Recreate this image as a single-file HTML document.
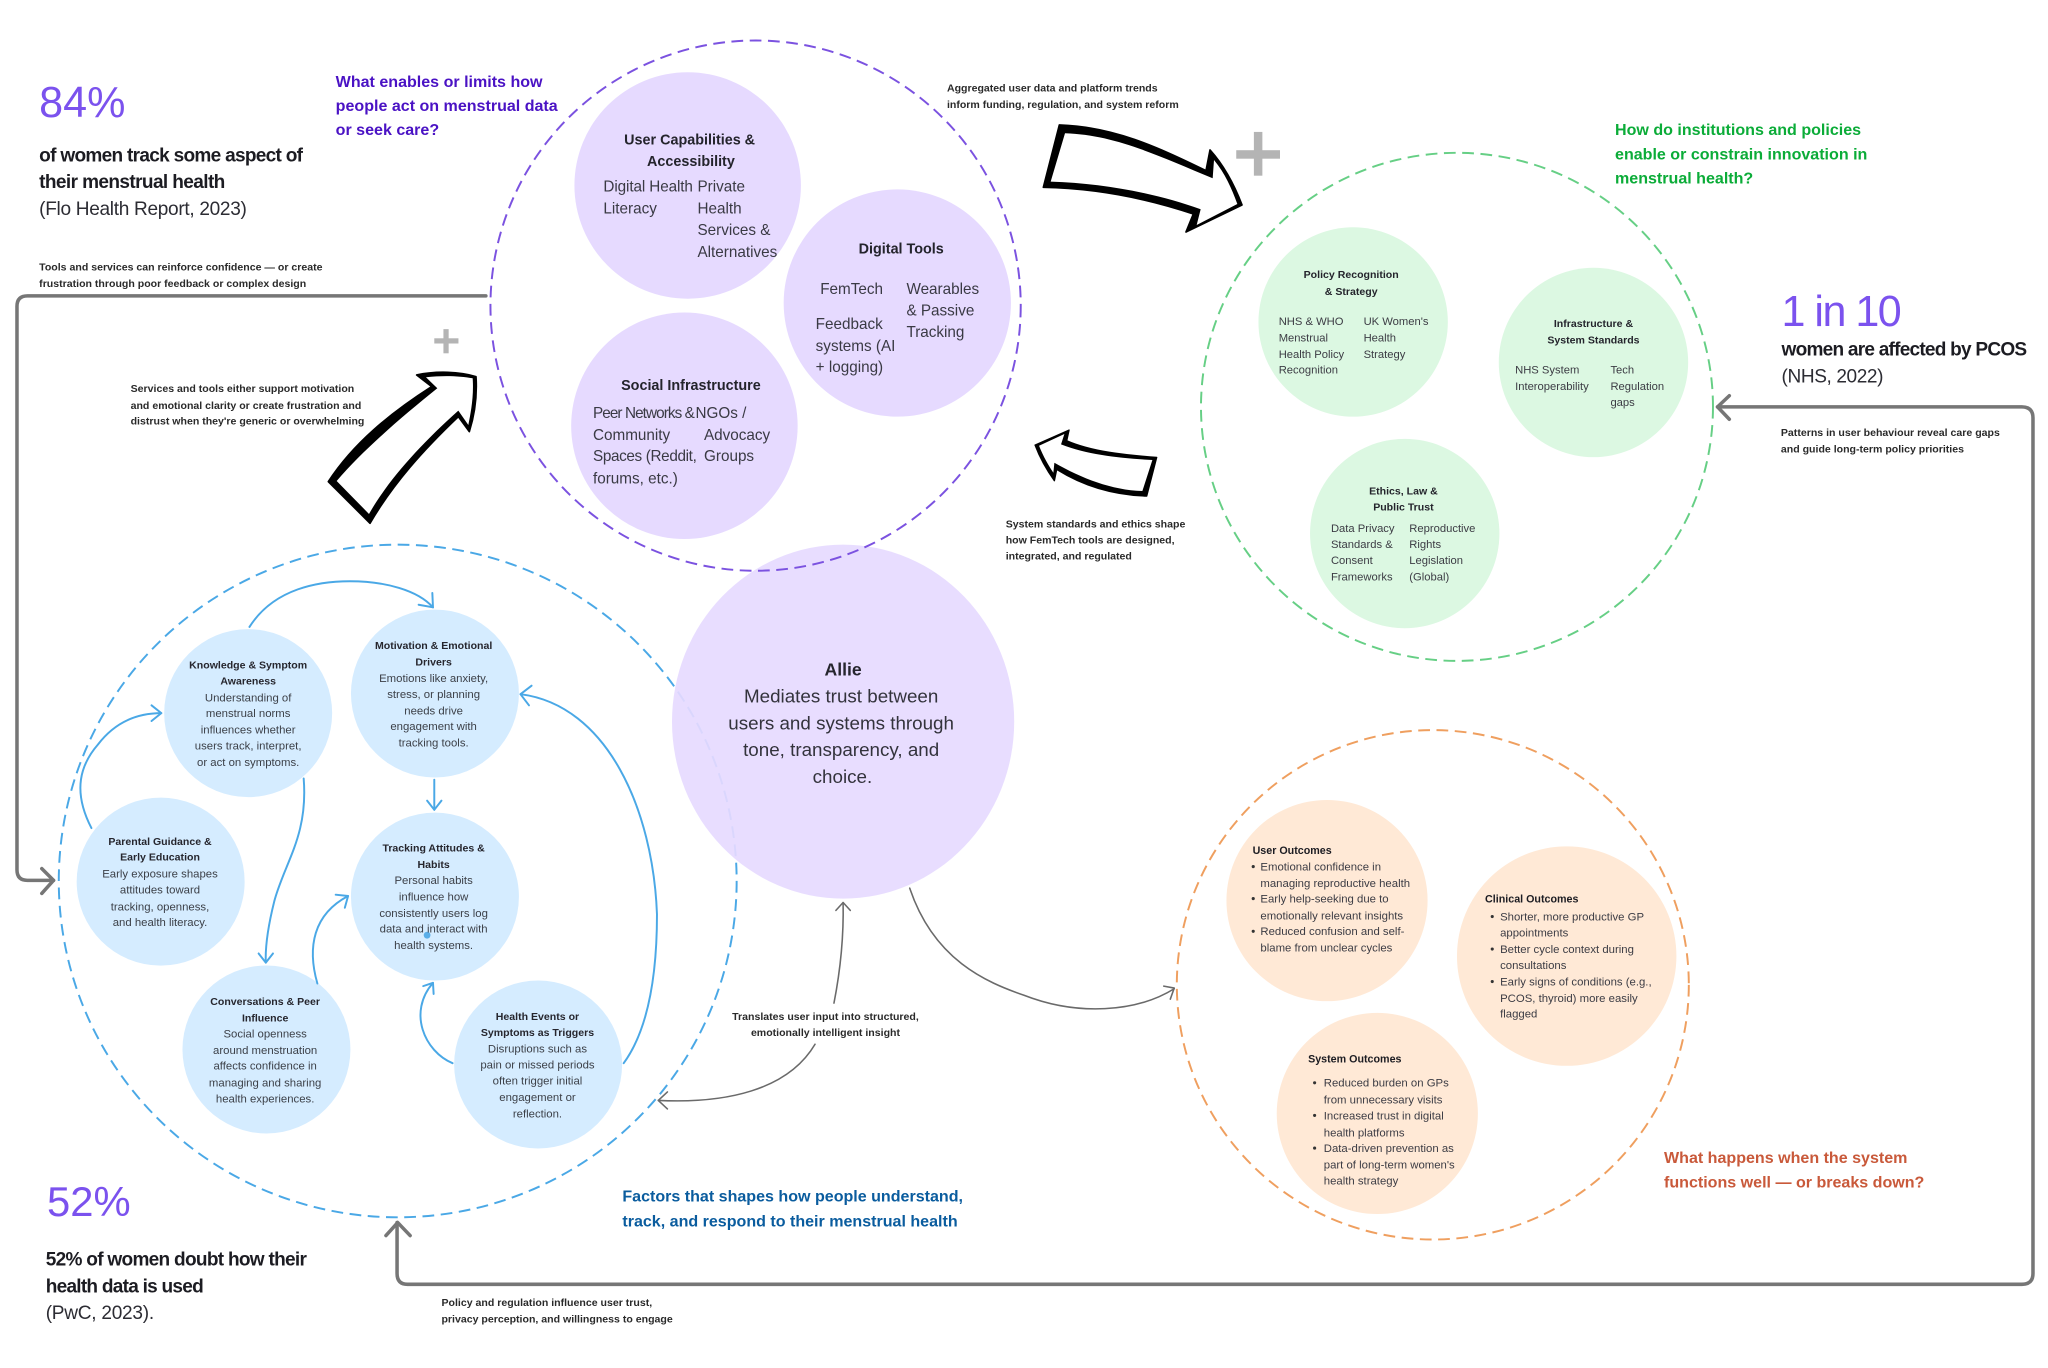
<!DOCTYPE html>
<html lang="en"><head><meta charset="utf-8"><title>Allie system diagram</title>
<style>
html,body{margin:0;padding:0;background:#fff;width:2048px;height:1368px;overflow:hidden}
svg{display:block}
text{font-family:"Liberation Sans",Arial,sans-serif}
.h{font-weight:700;font-size:14.6px;fill:#1c1c22}
.r{font-size:14.6px;fill:#2c2c33}
.n{font-weight:700;font-size:8.1px;fill:#2a2a2a}
.q{font-weight:700;font-size:12.3px}
.p{font-size:11.7px;fill:#3a3a44}
.pt{font-weight:700;font-size:11px;fill:#24242c}
.g{font-size:8.6px;fill:#3c3c44}
.gt{font-weight:700;font-size:8.1px;fill:#24242c}
.b{font-size:8.7px;fill:#3c4048}
.bt{font-weight:700;font-size:8.1px;fill:#26262e}
.o{font-size:8.7px;fill:#3c3c44}
.ot{font-weight:700;font-size:8.2px;fill:#1c1c22}
.m{text-anchor:middle}
.big{font-size:33px;fill:#7b52ee}
.line{fill:none;stroke:#4aa8e6;stroke-width:1.5;stroke-linecap:round;stroke-linejoin:round}
.thin{fill:none;stroke:#6a6a6a;stroke-width:1.2;stroke-linecap:round;stroke-linejoin:round}
.loop{fill:none;stroke:#767676;stroke-width:2.7;stroke-linecap:round;stroke-linejoin:round}
</style></head><body>
<svg xmlns="http://www.w3.org/2000/svg" width="2048" height="1368" viewBox="0 0 1568 1047.375">
<rect width="1568" height="1048" fill="#fff"/>

<!-- dashed rings -->
<ellipse cx="304.5" cy="674.5" rx="259.5" ry="257.5" fill="none" stroke="#4aa8e6" stroke-width="1.5" stroke-dasharray="9 5"/>
<ellipse cx="645.5" cy="552.5" rx="131" ry="135.5" fill="#e6daff" fill-opacity=".92"/>
<circle cx="578.5" cy="234" r="203" fill="none" stroke="#7b52e0" stroke-width="1.5" stroke-dasharray="9 5"/>
<ellipse cx="1115.5" cy="311.5" rx="196" ry="194.5" fill="none" stroke="#66cf85" stroke-width="1.5" stroke-dasharray="9 5"/>
<ellipse cx="1097" cy="754" rx="196" ry="195" fill="none" stroke="#ef9f5f" stroke-width="1.5" stroke-dasharray="9 5"/>

<!-- purple nodes -->
<circle cx="526.5" cy="142" r="86.7" fill="#e6daff"/>
<circle cx="687" cy="232" r="87" fill="#e6daff"/>
<circle cx="524" cy="326" r="86.7" fill="#e6daff"/>
<!-- green nodes -->
<circle cx="1036" cy="246.5" r="72.5" fill="#dcf8e2"/>
<circle cx="1220" cy="277.5" r="72.5" fill="#dcf8e2"/>
<circle cx="1075.5" cy="408.5" r="72.5" fill="#dcf8e2"/>
<!-- orange nodes -->
<circle cx="1016" cy="689.5" r="77" fill="#ffe9d6"/>
<circle cx="1199.5" cy="732" r="84" fill="#ffe9d6"/>
<circle cx="1054.5" cy="852.5" r="77" fill="#ffe9d6"/>
<!-- blue nodes -->
<circle cx="190" cy="546" r="64.3" fill="#d5ecff"/>
<circle cx="333" cy="531" r="64.3" fill="#d5ecff"/>
<circle cx="123" cy="675" r="64.3" fill="#d5ecff"/>
<circle cx="333" cy="686.5" r="64.3" fill="#d5ecff"/>
<circle cx="204" cy="803.5" r="64.3" fill="#d5ecff"/>
<circle cx="412" cy="815" r="64.3" fill="#d5ecff"/>
<circle cx="327" cy="716" r="2.6" fill="#5aaee8"/>

<!-- blue connectors -->
<g class="line">
<path d="M191 480C210 450 245 445 268 445C295 445 320 452 331.5 465"/><path d="M320.5 463L331.5 465L331 454"/>
<path d="M70 634C55 605 62 585 75 570C88 553 105 546 123.5 546"/><path d="M116 540L123.5 546L116 552"/>
<path d="M232.5 596C236 640 218 660 210 690C205 710 203 725 203.5 737"/><path d="M198 730L203.5 737L209 730"/>
<path d="M332.5 597V620"/><path d="M327 613L332.5 620L338 613"/>
<path d="M243 753C235 725 240 700 266.5 686"/><path d="M257 685L266.5 686L264 695"/>
<path d="M346.5 814C325 805 312 775 331.5 752.5"/><path d="M324 755L331.5 752.5L332 761"/>
<path d="M477.5 814C495 790 503 750 503 700C500 620 465 540 398.5 531.5"/><path d="M407 525L398.5 531.5L405 540"/>
</g>

<!-- thin gray connectors -->
<g class="thin">
<path d="M696.5 680C715 735 755 752 784 762C825 778 870 775 899 757"/><path d="M891 755L899 756.5L896 765"/>
<path d="M638.5 768C644 740 646 715 645.5 691"/><path d="M640 697L645.5 691L651 697"/>
<path d="M624 799.5C603 835 555 845 504 842.5"/><path d="M511 836L504 842.5L511 849"/>
</g>

<!-- gray loops -->
<g class="loop">
<path d="M372 226.5H21Q13 226.5 13 234.5V666Q13 674 21 674H41"/><path d="M32 665L41 674L32 684"/>
<path d="M1315 311.5H1548Q1556.5 311.5 1556.5 320V975Q1556.5 983.3 1548 983.3H312Q304 983.3 304 975V936"/>
<path d="M1324 303L1315 311.5L1324 321"/><path d="M295.5 946L304.5 936L314 946"/>
</g>

<!-- plus marks -->
<g fill="#b4b4b4">
<rect x="946.5" y="115" width="33.5" height="6.5"/><rect x="960" y="101" width="6.5" height="33.5"/>
<rect x="332.5" y="259" width="18.5" height="4"/><rect x="339.5" y="252" width="4" height="18.5"/>
</g>

<!-- hand-drawn arrows -->
<g transform="translate(788.6 84.2) scale(.2552)" stroke-linejoin="round">
<path fill="#000" stroke="#000" stroke-width="5" d="M88 45C250 50 380 110 528 182L540 120C585 170 615 230 636 285L468 366L490 312C350 265 200 235 40 232Z"/>
<path fill="#fff" d="M105 70C250 75 370 130 548 205L552 150C585 190 605 235 622 282L500 345L512 298C380 250 220 220 62 215Z"/>
</g>
<g transform="translate(245 275.6) scale(.2552)" stroke-linejoin="round">
<path fill="#000" stroke="#000" stroke-width="5" d="M25 365C100 250 210 160 335 80L290 45C350 32 420 35 468 50C472 110 462 170 448 215L415 170C310 270 220 370 150 490Z"/>
<path fill="#fff" d="M50 363C130 270 240 175 352 85L318 52C370 46 420 48 458 55C462 110 452 160 445 195L415 152C300 255 205 360 147 462Z"/>
</g>
<g transform="translate(784.8 321.6) scale(.2552)" stroke-linejoin="round">
<path fill="#000" stroke="#000" stroke-width="4" d="M395 112C300 105 200 95 125 62L132 30L30 75C45 115 65 150 88 182L95 148C170 195 260 225 365 228Z"/>
<path fill="#fff" d="M382 120C290 115 190 105 108 73L118 42L42 77C55 110 70 135 85 158L88 128C170 175 260 210 352 213Z"/>
</g>

<!-- stats -->
<text class="big" x="30" y="89.5">84%</text>
<text class="h" x="30" y="123.6" textLength="202">of women track some aspect of</text>
<text class="h" x="30" y="144" textLength="142.5">their menstrual health</text>
<text class="r" x="30" y="164.7" textLength="159">(Flo Health Report, 2023)</text>

<text class="big" x="1364" y="249.6" textLength="92">1 in 10</text>
<text class="h" x="1364" y="272" textLength="188">women are affected by PCOS</text>
<text class="r" x="1364" y="292.8" textLength="78">(NHS, 2022)</text>

<text class="big" x="36" y="931" style="font-size:32px">52%</text>
<text class="h" x="35" y="969" textLength="200">52% of women doubt how their</text>
<text class="h" x="35" y="989.6" textLength="121">health data is used</text>
<text class="r" x="35" y="1010" textLength="83">(PwC, 2023).</text>

<!-- question headings -->
<g class="q" fill="#4a12c4">
<text x="257" y="66.5">What enables or limits how</text><text x="257" y="85">people act on menstrual data</text><text x="257" y="103.5">or seek care?</text></g>
<g class="q" fill="#0bac38">
<text x="1236.5" y="103.5">How do institutions and policies</text><text x="1236.5" y="122">enable or constrain innovation in</text><text x="1236.5" y="140.5">menstrual health?</text></g>
<g class="q" fill="#0a5c9e">
<text x="476.5" y="920">Factors that shapes how people understand,</text><text x="476.5" y="939">track, and respond to their menstrual health</text></g>
<g class="q" fill="#c9593a">
<text x="1274" y="890.5">What happens when the system</text><text x="1274" y="909">functions well — or breaks down?</text></g>

<!-- notes -->
<g class="n">
<text x="30" y="207">Tools and services can reinforce confidence — or create</text>
<text x="30" y="219.6">frustration through poor feedback or complex design</text>
<text x="100" y="300">Services and tools either support motivation</text>
<text x="100" y="313">and emotional clarity or create frustration and</text>
<text x="100" y="325">distrust when they're generic or overwhelming</text>
<text x="725" y="70">Aggregated user data and platform trends</text>
<text x="725" y="82.5">inform funding, regulation, and system reform</text>
<text x="1363.5" y="334">Patterns in user behaviour reveal care gaps</text>
<text x="1363.5" y="346.6">and guide long-term policy priorities</text>
<text x="770" y="403.7">System standards and ethics shape</text>
<text x="770" y="416">how FemTech tools are designed,</text>
<text x="770" y="428.5">integrated, and regulated</text>
<text class="m" x="632" y="781">Translates user input into structured,</text>
<text class="m" x="632" y="793.3">emotionally intelligent insight</text>
<text x="338" y="1000">Policy and regulation influence user trust,</text>
<text x="338" y="1012.5">privacy perception, and willingness to engage</text>
</g>

<!-- Allie -->
<text class="m" x="645.5" y="517" style="font-weight:700;font-size:13.5px;fill:#26262e">Allie</text>
<g class="m" style="font-size:14.4px;fill:#33333c">
<text x="644" y="537.7">Mediates trust between</text>
<text x="644" y="558.5">users and systems through</text>
<text x="644" y="579">tone, transparency, and</text>
<text x="645" y="599.5">choice.</text></g>

<!-- purple text -->
<g class="pt m">
<text x="528" y="110.5">User Capabilities &amp;</text><text x="529" y="127">Accessibility</text>
<text x="690" y="194">Digital Tools</text><text x="529" y="298.5">Social Infrastructure</text></g>
<g class="p">
<text x="462" y="146.7" textLength="68.5">Digital Health</text><text x="462" y="163.4">Literacy</text>
<text x="534" y="146.7">Private</text><text x="534" y="163.4">Health</text><text x="534" y="180">Services &amp;</text><text x="534" y="196.7">Alternatives</text>
<text x="628" y="225">FemTech</text><text x="624.5" y="252">Feedback</text><text x="624.5" y="268.7">systems (AI</text><text x="624.5" y="285">+ logging)</text>
<text x="694" y="225">Wearables</text><text x="694" y="241.5">&amp; Passive</text><text x="694" y="258">Tracking</text>
<text x="454" y="320" textLength="78">Peer Networks &amp;</text><text x="454" y="336.7">Community</text><text x="454" y="353" textLength="79.5">Spaces (Reddit,</text><text x="454" y="370">forums, etc.)</text>
<text x="532.5" y="320">NGOs /</text><text x="539" y="336.7">Advocacy</text><text x="539" y="353">Groups</text>
</g>

<!-- green text -->
<g class="gt m">
<text x="1034.5" y="213">Policy Recognition</text><text x="1034.5" y="225.8">&amp; Strategy</text>
<text x="1220" y="250.3">Infrastructure &amp;</text><text x="1220" y="263">System Standards</text>
<text x="1074.5" y="378.5">Ethics, Law &amp;</text><text x="1074.5" y="391">Public Trust</text></g>
<g class="g">
<text x="979" y="249">NHS &amp; WHO</text><text x="979" y="261.3">Menstrual</text><text x="979" y="274">Health Policy</text><text x="979" y="286">Recognition</text>
<text x="1044" y="249">UK Women's</text><text x="1044" y="261.3">Health</text><text x="1044" y="274">Strategy</text>
<text x="1160" y="286">NHS System</text><text x="1160" y="298.5">Interoperability</text>
<text x="1233" y="286">Tech</text><text x="1233" y="298.5">Regulation</text><text x="1233" y="311">gaps</text>
<text x="1019" y="407.4">Data Privacy</text><text x="1019" y="419.6">Standards &amp;</text><text x="1019" y="432">Consent</text><text x="1019" y="444.5">Frameworks</text>
<text x="1079" y="407.4">Reproductive</text><text x="1079" y="419.6">Rights</text><text x="1079" y="432">Legislation</text><text x="1079" y="444.5">(Global)</text>
</g>

<!-- blue text -->
<g class="bt m">
<text x="190" y="512">Knowledge &amp; Symptom</text><text x="190" y="524">Awareness</text>
<text x="332" y="497">Motivation &amp; Emotional</text><text x="332" y="509.5">Drivers</text>
<text x="122.5" y="647">Parental Guidance &amp;</text><text x="122.5" y="659">Early Education</text>
<text x="332" y="652">Tracking Attitudes &amp;</text><text x="332" y="664.5">Habits</text>
<text x="203" y="769.6">Conversations &amp; Peer</text><text x="203" y="782">Influence</text>
<text x="411.5" y="781">Health Events or</text><text x="411.5" y="793">Symptoms as Triggers</text></g>
<g class="b m">
<text x="190" y="537">Understanding of</text><text x="190" y="549">menstrual norms</text><text x="190" y="561.4">influences whether</text><text x="190" y="574">users track, interpret,</text><text x="190" y="586.4">or act on symptoms.</text>
<text x="332" y="522">Emotions like anxiety,</text><text x="332" y="534.5">stress, or planning</text><text x="332" y="547">needs drive</text><text x="332" y="559">engagement with</text><text x="332" y="571.6">tracking tools.</text>
<text x="122.5" y="672">Early exposure shapes</text><text x="122.5" y="684">attitudes toward</text><text x="122.5" y="697">tracking, openness,</text><text x="122.5" y="709">and health literacy.</text>
<text x="332" y="677">Personal habits</text><text x="332" y="689.5">influence how</text><text x="332" y="702">consistently users log</text><text x="332" y="714">data and interact with</text><text x="332" y="726.6">health systems.</text>
<text x="203" y="794.5">Social openness</text><text x="203" y="807">around menstruation</text><text x="203" y="819">affects confidence in</text><text x="203" y="832">managing and sharing</text><text x="203" y="844">health experiences.</text>
<text x="411.5" y="806">Disruptions such as</text><text x="411.5" y="818">pain or missed periods</text><text x="411.5" y="830.5">often trigger initial</text><text x="411.5" y="843">engagement or</text><text x="411.5" y="855.5">reflection.</text>
</g>

<!-- orange text -->
<g class="ot">
<text x="959" y="654">User Outcomes</text><text x="1137" y="691">Clinical Outcomes</text><text x="1001.5" y="813.6">System Outcomes</text></g>
<g class="o">
<text x="965" y="666.5">Emotional confidence in</text><text x="965" y="679">managing reproductive health</text><text x="965" y="691">Early help-seeking due to</text><text x="965" y="704">emotionally relevant insights</text><text x="965" y="716">Reduced confusion and self-</text><text x="965" y="728.6">blame from unclear cycles</text>
<text x="1148.5" y="704.7">Shorter, more productive GP</text><text x="1148.5" y="717">appointments</text><text x="1148.5" y="729.6">Better cycle context during</text><text x="1148.5" y="742">consultations</text><text x="1148.5" y="754.5">Early signs of conditions (e.g.,</text><text x="1148.5" y="767">PCOS, thyroid) more easily</text><text x="1148.5" y="779">flagged</text>
<text x="1013.5" y="832">Reduced burden on GPs</text><text x="1013.5" y="845">from unnecessary visits</text><text x="1013.5" y="857">Increased trust in digital</text><text x="1013.5" y="870">health platforms</text><text x="1013.5" y="882">Data-driven prevention as</text><text x="1013.5" y="894.6">part of long-term women's</text><text x="1013.5" y="907">health strategy</text>
</g>
<g fill="#333">
<circle cx="959.5" cy="663.5" r="1.2"/><circle cx="959.5" cy="688" r="1.2"/><circle cx="959.5" cy="713" r="1.2"/>
<circle cx="1142.5" cy="701.7" r="1.2"/><circle cx="1142.5" cy="726.6" r="1.2"/><circle cx="1142.5" cy="751.5" r="1.2"/>
<circle cx="1006.5" cy="829" r="1.2"/><circle cx="1006.5" cy="854" r="1.2"/><circle cx="1006.5" cy="879" r="1.2"/>
</g>
</svg>
</body></html>
